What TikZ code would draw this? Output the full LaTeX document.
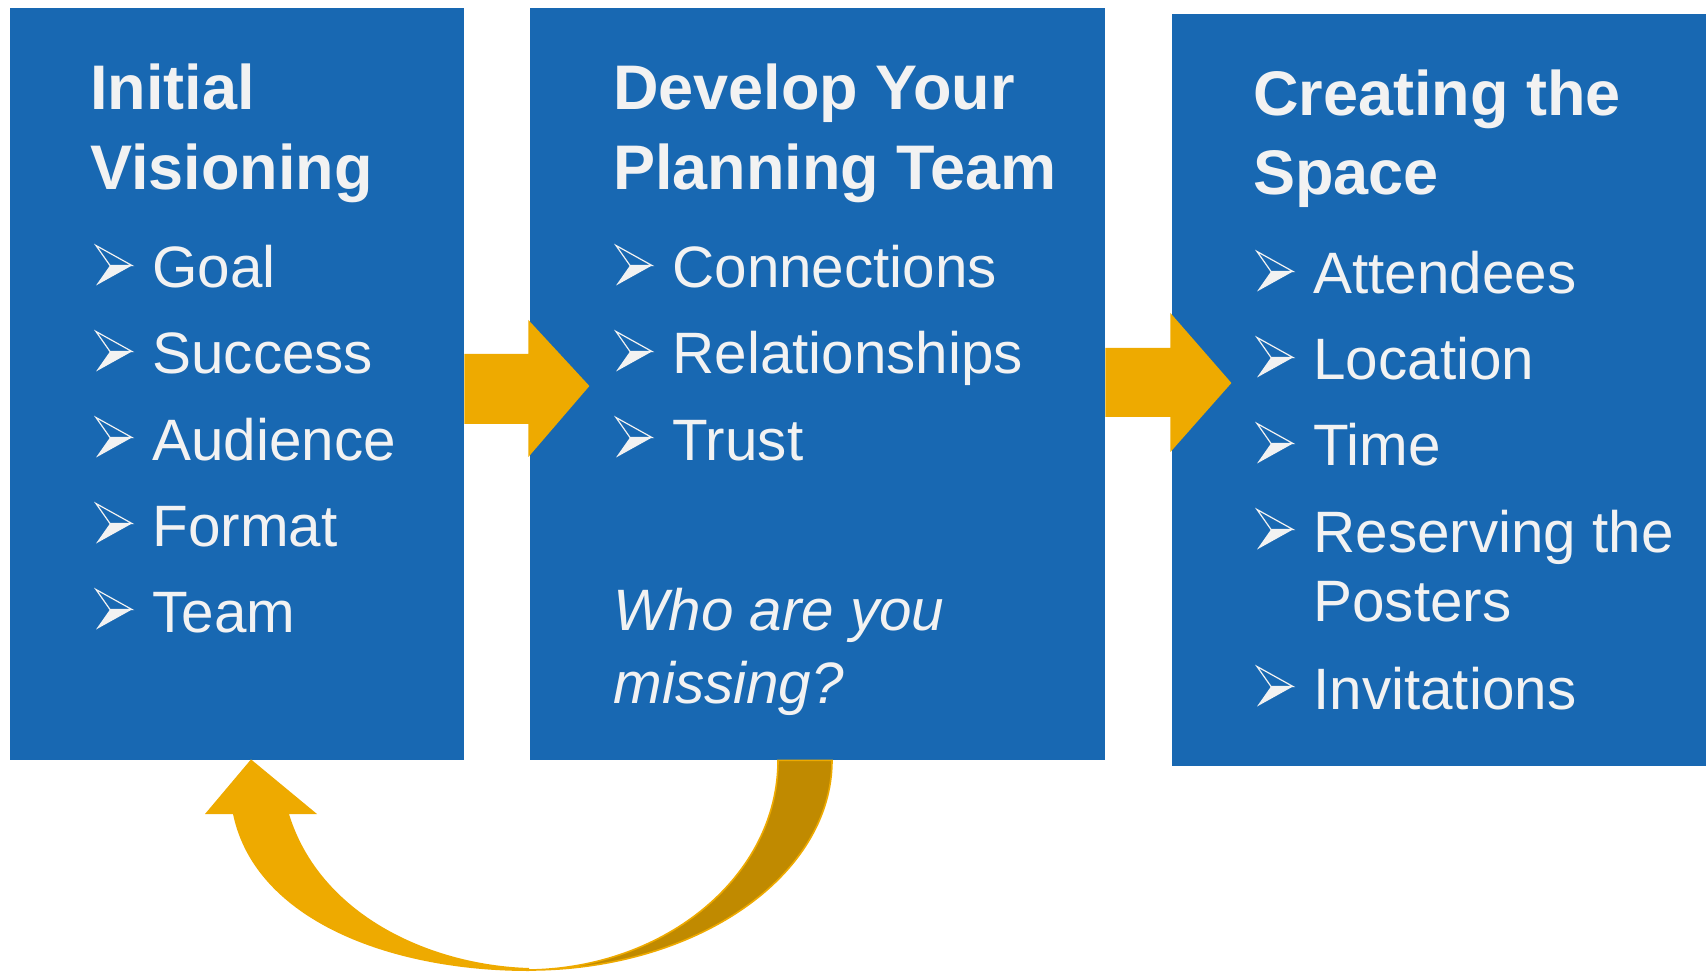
\documentclass[tikz,border=0pt]{standalone}
\usepackage{fontspec}
\setmainfont{Liberation Sans}
\usetikzlibrary{calc}

\definecolor{boxblue}{HTML}{1868B2}
\definecolor{gold}{HTML}{EEAA00}
\definecolor{darkgold}{HTML}{C08A00}
\definecolor{txt}{HTML}{F2F2F2}

\begin{document}
\begin{tikzpicture}[x=0.5pt, y=-0.5pt,
                    box/.style={rectangle, fill=boxblue, inner sep=0pt,
                                minimum height=376pt},
                    heading/.style={anchor=base west, inner sep=0pt, text=txt,
                                    font=\fontsize{31.5}{38}\selectfont\bfseries},
                    item/.style={anchor=base west, inner sep=0pt, text=txt,
                                 font=\fontsize{29.2}{35}\selectfont},
                    question/.style={item,
                                     font=\fontsize{29.2}{35}\selectfont\itshape},
                    bul/.pic={
                        \fill[txt] (14,0) -- (36,0) -- (0,20) -- cycle;
                        \draw[txt, line width=0.6pt] (0,-20) -- (36,0) -- (14,0) -- cycle;
                    }]
    \useasboundingbox (0,0) rectangle (1706,972);

    % the three blocks
    \node[box, minimum width=227pt] (vision) at (237,384) {};
    \node[box, minimum width=287.5pt] (team) at (817.5,384) {};
    \node[box, minimum width=267pt] (space) at (1439,390) {};

    \node[heading] (vision-t1) at (90,110) {Initial};
    \node[heading] (vision-t2) at (90,190) {Visioning};
    \node[heading] (team-t1) at (613,110) {Develop Your};
    \node[heading] (team-t2) at (613,190) {Planning Team};
    \node[heading] (space-t1) at (1253,116) {Creating the};
    \node[heading] (space-t2) at (1253,195) {Space};

    \foreach \lbl [count=\i] in {Goal, Success, Audience, Format, Team} {
        \pgfmathsetmacro\yb{202+86*\i}
        \pic at (96,\yb-22.5) {bul};
        \node[item] (vision-\i) at (152,\yb) {\lbl};
    }
    \foreach \lbl [count=\i] in {Connections, Relationships, Trust} {
        \pgfmathsetmacro\yb{202+86*\i}
        \pic at (616,\yb-22.5) {bul};
        \node[item] (team-\i) at (672,\yb) {\lbl};
    }
    \node[question] (team-q1) at (613,630) {Who are you};
    \node[question] (team-q2) at (613,703) {missing?};

    \foreach \lbl [count=\i] in {Attendees, Location, Time, Reserving the} {
        \pgfmathsetmacro\yb{208+86*\i}
        \pic at (1257,\yb-22.5) {bul};
        \node[item] (space-\i) at (1313,\yb) {\lbl};
    }
    \node[item] (space-4b) at (1313,621) {Posters};
    \pic at (1257,709-22.5) {bul};
    \node[item] (space-5) at (1313,709) {Invitations};

    % block arrows between the boxes
    \fill[gold] ($(vision.east)+(0,-30)$) -- ++(64,0) -- ++(0,-34) -- ++(61,66)
        -- ++(-61,71) -- ++(0,-33) -- ++(-64,0) -- cycle;
    \fill[gold] ($(team.east)+(0,-36)$) -- ++(65,0) -- ++(0,-35) -- ++(61,70)
        -- ++(-61,69) -- ++(0,-35) -- ++(-65,0) -- cycle;

    % curved arrow back to the first box
    \coordinate (tail-out) at ($(team.south)+(14.5,0)$);
    \coordinate (tail-in) at ($(team.south)+(-39.5,0)$);
    \coordinate (tip) at ($(vision.south)+(14,-1)$);
    \coordinate (low) at (529,970);
    \filldraw[fill=darkgold, draw=gold, line width=0.8pt]
        (tail-out) .. controls (832,876) and (696,970) .. (low)
        .. controls (667,968) and (778,875) .. (tail-in) -- cycle;
    \fill[gold] (tip) -- (317,814) -- (289,814)
        .. controls (320,915) and (430,965) .. (529,968) -- (529,971)
        .. controls (390,971) and (255,920) .. (233,814) -- (205,814) -- cycle;
\end{tikzpicture}
\end{document}
